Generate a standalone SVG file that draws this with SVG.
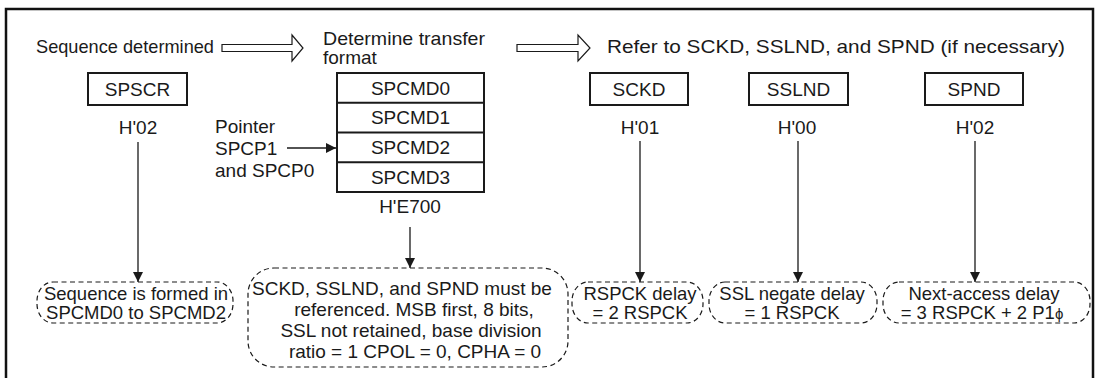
<svg xmlns="http://www.w3.org/2000/svg" width="1101" height="378" viewBox="0 0 1101 378">
<defs>
<style>
text{font-family:"Liberation Sans",Arial,sans-serif;font-size:19px;fill:#1a1a1a}
.c{text-anchor:middle}
.box{fill:#fff;stroke:#1a1a1a;stroke-width:2}
.dash{fill:#fff;stroke:#1a1a1a;stroke-width:1.2;stroke-dasharray:5 3.5}
.ln{stroke:#1a1a1a;stroke-width:1.3;fill:none}
.hollow{fill:#fff;stroke:#1a1a1a;stroke-width:1.2}
.n{font-size:18.5px}
</style>
<marker id="ah" markerWidth="10" markerHeight="12" refX="10" refY="6" orient="auto" markerUnits="userSpaceOnUse">
<path d="M0,1 L10,6 L0,11 Z" fill="#1a1a1a"/>
</marker>
</defs>
<rect width="1101" height="378" fill="#fff"/>
<rect x="6" y="9" width="1087" height="390" fill="none" stroke="#111" stroke-width="2.5"/>

<g id="header">
<text x="36" y="53" textLength="178" lengthAdjust="spacingAndGlyphs">Sequence determined</text>
<polygon class="hollow" points="222,44.5 292,44.5 292,35 303,48 292,61 292,51.5 222,51.5"/>
<text x="323" y="45" textLength="162" lengthAdjust="spacingAndGlyphs">Determine transfer</text>
<text x="323" y="64">format</text>
<polygon class="hollow" points="517,44.5 578,44.5 578,35 590,48 578,61 578,51.5 517,51.5"/>
<text x="607" y="53" textLength="458" lengthAdjust="spacingAndGlyphs">Refer to SCKD, SSLND, and SPND (if necessary)</text>
</g>

<g id="spscr">
<rect class="box" x="88" y="73" width="99" height="32"/>
<text class="c" x="137.5" y="96">SPSCR</text>
<text class="c" x="138" y="134">H'02</text>
</g>

<g id="spcmd">
<rect class="box" x="337" y="73" width="147" height="119"/>
<line class="box" x1="337" y1="102.75" x2="484" y2="102.75"/>
<line class="box" x1="337" y1="132.5" x2="484" y2="132.5"/>
<line class="box" x1="337" y1="162.25" x2="484" y2="162.25"/>
<text class="c" x="410.5" y="94.5">SPCMD0</text>
<text class="c" x="410.5" y="124.2">SPCMD1</text>
<text class="c" x="410.5" y="154">SPCMD2</text>
<text class="c" x="410.5" y="183.7">SPCMD3</text>
<text class="c" x="410" y="213">H'E700</text>
</g>

<g id="pointer">
<text x="215" y="133">Pointer</text>
<text x="215" y="155">SPCP1</text>
<text x="215" y="177">and SPCP0</text>
</g>

<g id="sckd">
<rect class="box" x="590" y="73" width="98" height="32"/>
<text class="c" x="639" y="96">SCKD</text>
<text class="c" x="640" y="134">H'01</text>
</g>

<g id="sslnd">
<rect class="box" x="749" y="73" width="99" height="32"/>
<text class="c" x="798.5" y="96">SSLND</text>
<text class="c" x="797" y="134">H'00</text>
</g>

<g id="spnd">
<rect class="box" x="925" y="73" width="98" height="32"/>
<text class="c" x="974" y="96">SPND</text>
<text class="c" x="975" y="134">H'02</text>
</g>

<g id="connectors">
<line class="ln" x1="287" y1="148" x2="336" y2="148" marker-end="url(#ah)"/>
<line class="ln" x1="138" y1="142" x2="138" y2="282" marker-end="url(#ah)"/>
<line class="ln" x1="410" y1="227" x2="410" y2="268" marker-end="url(#ah)"/>
<line class="ln" x1="640" y1="141" x2="640" y2="282" marker-end="url(#ah)"/>
<line class="ln" x1="798" y1="141" x2="798" y2="282" marker-end="url(#ah)"/>
<line class="ln" x1="975" y1="141" x2="975" y2="282" marker-end="url(#ah)"/>
</g>

<g id="note1">
<rect class="dash" x="37" y="282" width="196" height="41" rx="16" ry="19"/>
<text class="c n" x="136" y="300">Sequence is formed in</text>
<text class="c n" x="136" y="319">SPCMD0 to SPCMD2</text>
</g>

<g id="note2">
<rect class="dash" x="248" y="268" width="320" height="99" rx="26" ry="26"/>
<text class="c" x="402" y="295">SCKD, SSLND, and SPND must be</text>
<text class="c" x="414" y="316">referenced. MSB first, 8 bits,</text>
<text class="c" x="411" y="337">SSL not retained, base division</text>
<text class="c" x="415" y="358">ratio = 1 CPOL = 0, CPHA = 0</text>
</g>

<g id="note3">
<rect class="dash" x="572" y="282" width="131" height="41" rx="16" ry="19"/>
<text class="c n" x="640" y="300">RSPCK delay</text>
<text class="c n" x="640" y="319">= 2 RSPCK</text>
</g>

<g id="note4">
<rect class="dash" x="709" y="282" width="168" height="41" rx="16" ry="19"/>
<text class="c n" x="792" y="300">SSL negate delay</text>
<text class="c n" x="792" y="319">= 1 RSPCK</text>
</g>

<g id="note5">
<rect class="dash" x="883" y="282" width="207" height="41" rx="16" ry="19"/>
<text class="c n" x="984" y="300">Next-access delay</text>
<text class="c n" x="982" y="319">= 3 RSPCK + 2 P1<tspan font-size="15">ϕ</tspan></text>
</g>
</svg>
